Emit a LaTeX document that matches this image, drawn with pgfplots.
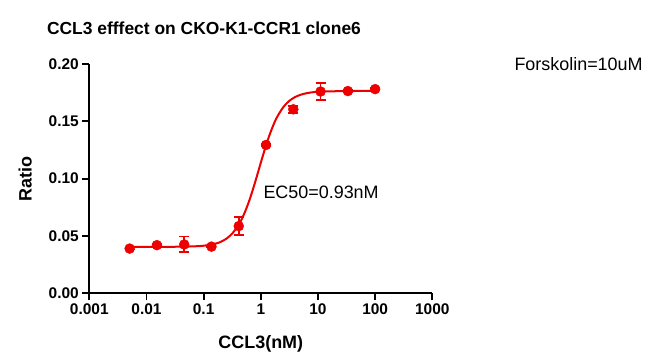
\documentclass[border=0pt]{standalone}
\usepackage{fontspec}
\setmainfont{Liberation Sans}
\usepackage{pgfplots}
\usepackage{pgfplotstable}
\pgfplotsset{compat=1.18}
\definecolor{cred}{RGB}{236,0,0}
\pgfplotstableread{
x y e
0.00508 0.0390 0.0008
0.01524 0.0420 0.0008
0.04572 0.0426 0.0068
0.1372 0.0407 0.0008
0.4115 0.0586 0.0077
1.2346 0.1294 0.0010
3.7037 0.1605 0.0030
11.111 0.1760 0.0073
33.333 0.1764 0.0010
100 0.1781 0.0010
}\pts
\begin{document}
\begin{tikzpicture}
\path[use as bounding box] (0,0) rectangle (656bp,363bp);
\begin{axis}[
 at={(89.3bp,69.7bp)}, anchor=south west, scale only axis,
 width=343bp, height=229.3bp,
 xmode=log, xmin=0.001, xmax=1000, ymin=0, ymax=0.2,
 axis x line*=bottom, axis y line*=left,
 axis line style={-, line width=1.8bp},
 tick align=outside, major tick length=7bp,
 every tick/.style={line width=1.8bp, black},
 xtick={0.001,0.01,0.1,1,10,100,1000},
 xticklabels={0.001,0.01,0.1,1,10,100,1000},
 xminorticks=false, yminorticks=false,
 ytick={0,0.05,0.1,0.15,0.2},
 yticklabels={0.00,0.05,0.10,0.15,0.20},
 ticklabel style={font=\fontsize{15.5}{16}\selectfont\bfseries},
 xlabel={CCL3(nM)}, ylabel={Ratio},
 label style={font=\fontsize{18}{19}\selectfont\bfseries},
 xlabel style={at={(axis description cs:0.5,0)}, anchor=center, yshift=-51bp},
 ylabel style={at={(axis description cs:0,0.5)}, anchor=center, yshift=64bp},
 clip=false,
]
\addplot[cred, line width=2bp, smooth, no marks] coordinates {
(0.005012,0.0405) (0.03162,0.0406) (0.06310,0.0409) (0.1,0.0415)
(0.1585,0.0432) (0.1995,0.0449) (0.2512,0.0477) (0.3162,0.0521)
(0.3981,0.0587) (0.4467,0.0631) (0.5012,0.0683) (0.5623,0.0743)
(0.6310,0.0811) (0.7079,0.0887) (0.7943,0.0968) (0.8913,0.1053)
(1,0.1139) (1.122,0.1223) (1.2589,0.1303) (1.4125,0.1377)
(1.5849,0.1443) (1.7783,0.1502) (1.9953,0.1551) (2.5119,0.1628)
(3.1623,0.1679) (3.981,0.1712) (5.0119,0.1732) (6.3096,0.1745)
(10,0.1758) (31.62,0.1764) (100,0.1765)
};
\addplot[cred, only marks, mark=*, mark size=5bp, mark options={fill=cred, draw=cred},
 error bars/.cd, y dir=both, y explicit,
 error mark options={rotate=90, mark size=5bp, line width=1.6bp, cred},
 error bar style={line width=1.6bp, cred}]
 table[x=x, y=y, y error=e] {\pts};
\end{axis}
\node[font=\fontsize{17.5}{18}\selectfont\bfseries] at (204bp,335bp) {CCL3 efffect on CKO-K1-CCR1 clone6};
\node[font=\fontsize{18}{19}\selectfont, anchor=west] at (511bp,299bp) {Forskolin=10uM};
\node[font=\fontsize{18}{19}\selectfont, anchor=west] at (260bp,171bp) {EC50=0.93nM};
\end{tikzpicture}
\end{document}
